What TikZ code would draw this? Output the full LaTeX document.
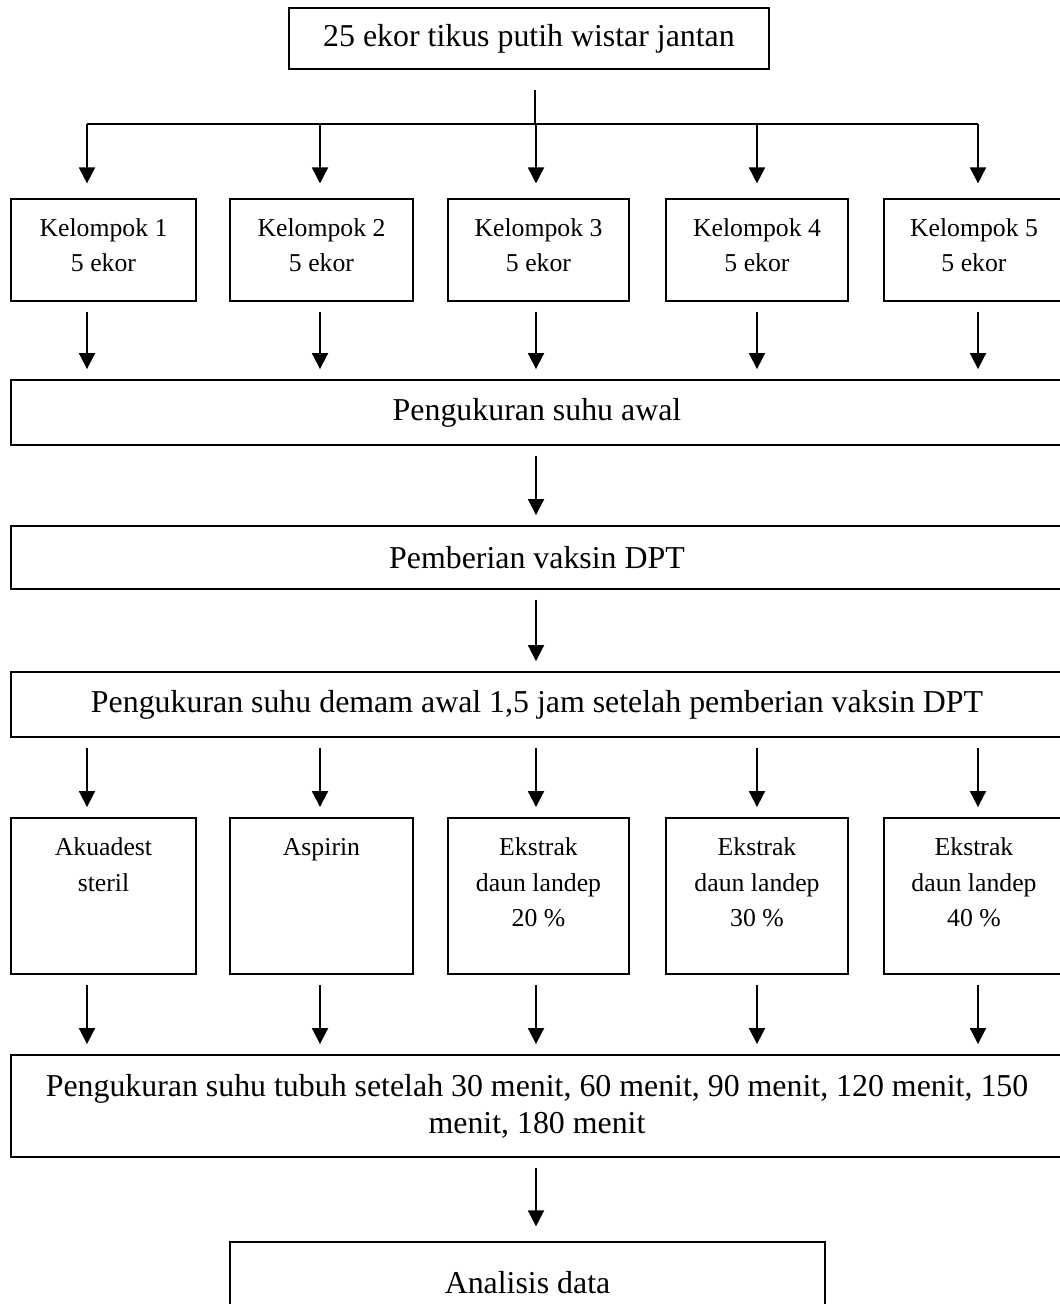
\documentclass[tikz,border=0pt]{standalone}
\usepackage{fontspec}
\setmainfont{Liberation Serif}
\usetikzlibrary{arrows.meta}
\begin{document}
\begin{tikzpicture}[x=0.75pt,y=-0.75pt,
  box/.style={draw, line width=1.4pt, inner sep=0pt, align=center},
  bigtxt/.style={font=\fontsize{23.9pt}{27.75pt}\selectfont},
  smtxt/.style={font=\fontsize{19.3pt}{26.6pt}\selectfont, align=center, inner sep=0pt, anchor=north},
  line/.style={line width=1.4pt},
  arr/.style={line width=1.4pt, -{Triangle[length=12pt,width=12pt]}, shorten <=7.5pt, shorten >=7.5pt},
  arrtop/.style={line width=1.4pt, -{Triangle[length=12pt,width=12pt]}, shorten >=11pt}
]
\useasboundingbox (0,0) rectangle (1060,1304);

% columns for arrows
\coordinate (c1) at (87,0);
\coordinate (c2) at (320,0);
\coordinate (c3) at (536,0);
\coordinate (c4) at (757,0);
\coordinate (c5) at (978,0);
\coordinate (bar) at (535,124);

% top box
\node[box, bigtxt, minimum width=480*0.75pt, minimum height=61*0.75pt] (top) at (529,38.5) {25 ekor tikus putih wistar jantan};

% Kelompok boxes
\node[box, minimum width=185*0.75pt, minimum height=102*0.75pt] (k1) at (103.5,250) {};
\node[box, minimum width=183*0.75pt, minimum height=102*0.75pt] (k2) at (321.5,250) {};
\node[box, minimum width=181*0.75pt, minimum height=102*0.75pt] (k3) at (538.5,250) {};
\node[box, minimum width=182*0.75pt, minimum height=102*0.75pt] (k4) at (757,250) {};
\node[box, minimum width=180*0.75pt, minimum height=102*0.75pt] (k5) at (974,250) {};
\node[smtxt] (k1t) at ([yshift=-15pt]k1.north) {Kelompok 1\\5 ekor};
\node[smtxt] (k2t) at ([yshift=-15pt]k2.north) {Kelompok 2\\5 ekor};
\node[smtxt] (k3t) at ([yshift=-15pt]k3.north) {Kelompok 3\\5 ekor};
\node[smtxt] (k4t) at ([yshift=-15pt]k4.north) {Kelompok 4\\5 ekor};
\node[smtxt] (k5t) at ([yshift=-15pt]k5.north) {Kelompok 5\\5 ekor};

% wide boxes
\node[box, bigtxt, minimum width=1052*0.75pt, minimum height=65*0.75pt] (awal) at (537,412.5) {Pengukuran suhu awal};
\node[box, bigtxt, minimum width=1052*0.75pt, minimum height=63*0.75pt] (vaksin) at (537,557.5) {Pemberian vaksin DPT};
\node[box, bigtxt, minimum width=1052*0.75pt, minimum height=65*0.75pt] (demam) at (537,704.5) {Pengukuran suhu demam awal 1,5 jam setelah pemberian vaksin DPT};

% treatment boxes
\node[box, minimum width=185*0.75pt, minimum height=156*0.75pt] (b1) at (103.5,896) {};
\node[box, minimum width=183*0.75pt, minimum height=156*0.75pt] (b2) at (321.5,896) {};
\node[box, minimum width=181*0.75pt, minimum height=156*0.75pt] (b3) at (538.5,896) {};
\node[box, minimum width=182*0.75pt, minimum height=156*0.75pt] (b4) at (757,896) {};
\node[box, minimum width=180*0.75pt, minimum height=156*0.75pt] (b5) at (974,896) {};
\node[smtxt] (b1t) at ([yshift=-15.5pt]b1.north) {Akuadest\\steril};
\node[smtxt] (b2t) at ([yshift=-15.5pt]b2.north) {Aspirin};
\node[smtxt] (b3t) at ([yshift=-15.5pt]b3.north) {Ekstrak\\daun landep\\20 \%};
\node[smtxt] (b4t) at ([yshift=-15.5pt]b4.north) {Ekstrak\\daun landep\\30 \%};
\node[smtxt] (b5t) at ([yshift=-15.5pt]b5.north) {Ekstrak\\daun landep\\40 \%};

% measurement box
\node[box, bigtxt, minimum width=1052*0.75pt, minimum height=102*0.75pt] (ukur) at (537,1106) {Pengukuran suhu tubuh setelah 30 menit, 60 menit, 90 menit, 120 menit, 150\\menit, 180 menit};

% analysis box
\node[box, bigtxt, minimum width=595*0.75pt, minimum height=82*0.75pt] (anal) at (527.5,1283) {Analisis data};

% connectors: top fan
\draw[line, shorten <=15pt] (bar |- top.south) -- (bar);
\draw[line] (bar -| c1) -- (bar -| c5);
\draw[arrtop] (bar -| c1) -- (k1.north -| c1);
\draw[arrtop] (bar -| c2) -- (k2.north -| c2);
\draw[arrtop] (bar -| c3) -- (k3.north -| c3);
\draw[arrtop] (bar -| c4) -- (k4.north -| c4);
\draw[arrtop] (bar -| c5) -- (k5.north -| c5);

% groups to initial measurement
\draw[arr] (k1.south -| c1) -- (awal.north -| c1);
\draw[arr] (k2.south -| c2) -- (awal.north -| c2);
\draw[arr] (k3.south -| c3) -- (awal.north -| c3);
\draw[arr] (k4.south -| c4) -- (awal.north -| c4);
\draw[arr] (k5.south -| c5) -- (awal.north -| c5);

% central chain
\draw[arr] (awal.south -| c3) -- (vaksin.north -| c3);
\draw[arr] (vaksin.south -| c3) -- (demam.north -| c3);

% fever measurement to treatments
\draw[arr] (demam.south -| c1) -- (b1.north -| c1);
\draw[arr] (demam.south -| c2) -- (b2.north -| c2);
\draw[arr] (demam.south -| c3) -- (b3.north -| c3);
\draw[arr] (demam.south -| c4) -- (b4.north -| c4);
\draw[arr] (demam.south -| c5) -- (b5.north -| c5);

% treatments to measurement
\draw[arr] (b1.south -| c1) -- (ukur.north -| c1);
\draw[arr] (b2.south -| c2) -- (ukur.north -| c2);
\draw[arr] (b3.south -| c3) -- (ukur.north -| c3);
\draw[arr] (b4.south -| c4) -- (ukur.north -| c4);
\draw[arr] (b5.south -| c5) -- (ukur.north -| c5);

% to analysis
\draw[arr, shorten >=11pt] (ukur.south -| c3) -- (anal.north -| c3);
\end{tikzpicture}
\end{document}
